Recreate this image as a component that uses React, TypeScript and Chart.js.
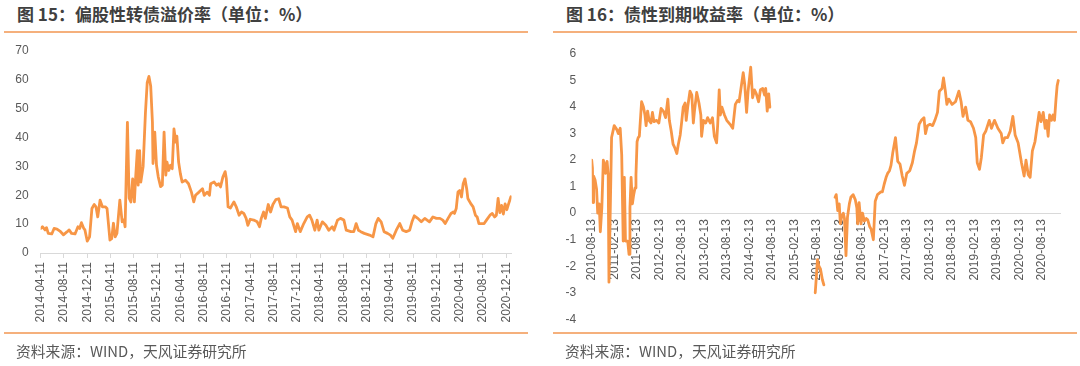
import React, { useEffect, useRef } from 'react';
import { Chart, registerables } from 'chart.js';

Chart.register(...registerables);

// ---------- 图15 偏股性转债溢价率 (months since 2014-04-11, %) ----------
const premiumMonths = [
  0.0, 0.3, 0.75, 1.0, 1.3, 1.9, 2.3, 2.8, 3.3, 3.9, 4.5, 4.9, 5.3, 5.9, 6.4, 6.7, 7.0, 7.4, 7.6, 8.0,
  8.4, 8.8, 9.2, 9.5, 9.8, 10.2, 10.6, 11.1, 11.4, 11.9, 12.2, 12.5, 12.8, 13.1, 13.6, 14.0, 14.3, 14.5, 14.9, 15.2,
  15.5, 15.8, 16.1, 16.3, 16.6, 16.75, 17.0, 17.2, 17.6, 18.0, 18.3, 18.6, 18.9, 19.2, 19.3, 19.6, 19.9, 20.2, 20.6, 20.9,
  21.2, 21.5, 21.7, 22.0, 22.3, 22.6, 22.9, 23.2, 23.4, 23.7, 24.0, 24.3, 24.9, 25.4, 25.9, 26.3, 26.6, 27.2, 27.8, 28.1,
  28.6, 29.0, 29.2, 29.8, 30.2, 30.6, 30.9, 31.3, 31.7, 31.9, 32.2, 32.6, 33.2, 33.6, 34.1, 34.5, 34.9, 35.3, 35.6, 36.0,
  36.6, 37.2, 37.6, 37.9, 38.3, 38.6, 39.1, 39.5, 39.9, 40.4, 40.9, 41.3, 41.8, 42.4, 42.8, 43.2, 43.8, 44.1, 44.6, 45.2,
  45.8, 46.2, 46.6, 47.1, 47.5, 47.8, 48.4, 49.0, 49.5, 50.1, 50.4, 51.0, 51.5, 52.1, 52.5, 53.3, 53.8, 54.2, 54.6, 55.0,
  55.6, 56.5, 57.1, 57.6, 58.0, 58.5, 59.0, 59.6, 60.1, 60.5, 61.1, 61.7, 62.2, 62.8, 63.4, 63.8, 64.2, 64.8, 65.4, 66.0,
  66.4, 66.8, 67.4, 68.0, 68.6, 69.1, 69.5, 70.0, 70.5, 70.9, 71.1, 71.4, 71.7, 72.0, 72.3, 72.6, 72.9, 73.2, 73.4, 73.9,
  74.3, 74.7, 75.0, 75.3, 75.7, 76.2, 76.6, 77.2, 77.6, 78.0, 78.3, 78.6, 78.9, 79.2, 79.5, 79.8, 80.1, 80.4, 80.8,
];
const premiumValues = [
  8.5, 9.1, 8.0, 8.8, 6.8, 6.6, 8.5, 8.3, 7.6, 6.3, 7.3, 8.0, 6.8, 6.6, 9.1, 8.5, 10.5, 8.5, 8.0, 4.1,
  5.6, 15.4, 16.8, 16.0, 12.5, 18.3, 16.0, 16.0, 15.4, 4.5, 5.0, 10.3, 5.6, 6.8, 18.3, 10.8, 11.5, 9.1, 45.3, 19.0,
  17.7, 25.7, 17.7, 25.7, 35.5, 23.5, 35.5, 24.6, 30.0, 48.7, 59.0, 61.2, 57.9, 45.3, 31.0, 41.9, 30.4, 26.4, 23.0, 23.5,
  41.9, 27.0, 31.5, 28.6, 30.4, 29.2, 43.0, 38.4, 40.5, 31.5, 27.5, 24.6, 25.2, 24.0, 21.1, 17.7, 20.0, 21.1, 22.3, 20.0,
  21.1, 20.0, 24.0, 24.6, 23.5, 24.0, 22.9, 26.3, 28.2, 25.7, 16.0, 15.6, 17.7, 16.0, 13.1, 14.2, 13.7, 12.0, 9.6, 11.7,
  11.4, 10.8, 9.1, 12.0, 14.2, 12.0, 16.8, 14.2, 16.8, 18.5, 18.8, 16.0, 16.0, 15.6, 12.5, 11.4, 7.4, 10.2, 7.4, 10.2,
  12.5, 13.1, 11.4, 7.9, 11.4, 7.9, 10.8, 9.6, 7.9, 9.1, 7.9, 11.4, 12.0, 11.4, 7.9, 7.4, 7.4, 10.2, 7.9, 7.4,
  6.8, 6.2, 5.6, 10.2, 12.0, 10.8, 7.4, 6.8, 6.2, 5.1, 7.9, 10.2, 7.9, 7.4, 7.9, 10.8, 12.9, 12.0, 10.8, 12.0,
  11.4, 10.8, 12.5, 12.0, 12.0, 11.4, 10.2, 12.0, 13.7, 14.2, 13.7, 15.4, 21.1, 21.7, 19.4, 24.0, 25.7, 22.3, 18.9, 17.1,
  16.0, 13.1, 12.5, 10.2, 10.2, 10.2, 11.4, 13.1, 13.7, 12.5, 13.1, 18.9, 14.0, 16.5, 13.5, 17.0, 15.0, 17.0, 19.5,
];
const premiumTickLabels = [
  '2014-04-11', '2014-08-11', '2014-12-11', '2015-04-11', '2015-08-11', '2015-12-11', '2016-04-11',
  '2016-08-11', '2016-12-11', '2017-04-11', '2017-08-11', '2017-12-11', '2018-04-11', '2018-08-11',
  '2018-12-11', '2019-04-11', '2019-08-11', '2019-12-11', '2020-04-11', '2020-08-11', '2020-12-11',
];

// ---------- 图16 债性到期收益率 (months since 2010-08-13, %), null = gap ----------
const ytmMonths = [
  0.0, 0.2, 0.35, 0.5, 0.9, 1.3, 1.6, 2.0, 2.3, 2.7, 3.1, 3.4, 3.7, 4.1, 4.4, 4.6, 5.3, 6.0, 6.7, 7.1,
  7.6, 8.0, 8.4, 8.7, 9.0, 9.6, 9.95, 10.2, 10.5, 10.85, 11.2, 11.55, 11.8, 12.1, 12.4, 12.7, 13.3, 13.8, 14.2, 14.5,
  14.9, 15.3, 15.8, 16.2, 16.6, 17.3, 17.9, 18.5, 19.1, 19.7, 20.3, 20.7, 21.2, 21.7, 22.2, 22.7, 23.1, 23.6, 24.0, 24.4,
  24.9, 25.2, 25.6, 26.2, 26.7, 27.1, 27.4, 28.0, 28.6, 29.1, 29.3, 29.8, 30.4, 30.9, 31.6, 32.2, 32.7, 33.3, 33.6, 34.0,
  34.3, 34.7, 35.4, 36.0, 36.9, 37.6, 38.3, 38.9, 39.3, 39.8, 40.4, 40.8, 41.3, 41.7, 42.4, 42.9, 43.4, 43.9, 44.5, 45.0,
  45.6, 46.1, 46.4, 46.8, 47.2, 47.5,
  53.0,
  59.6, 59.9, 60.2, 60.6, 61.0, 61.5, 61.9,
  63.5,
  64.9, 65.2, 65.6, 66.0, 66.3, 66.7, 67.1, 67.4, 67.8, 68.2, 68.7, 69.1, 69.7, 70.3, 70.7, 70.9, 71.3, 71.8, 72.2, 72.7,
  73.2, 73.6, 74.1, 74.5, 75.1, 75.6, 76.2, 77.1, 77.5, 78.0, 78.5, 78.9, 79.4, 79.8, 80.3, 81.0, 81.6, 82.2, 82.8, 83.4,
  84.0, 84.8, 85.5, 86.1, 86.6, 87.3, 87.9, 88.6, 89.0, 89.5, 90.2, 90.9, 91.5, 92.2, 92.7, 93.4, 93.8, 94.3, 94.7, 95.2,
  96.1, 97.0, 97.9, 98.5, 99.0, 99.7, 100.3, 101.0, 101.8, 102.4, 102.8, 103.4, 103.9, 104.5, 105.1, 106.0, 106.6, 107.4, 108.3, 109.2,
  109.6, 110.2, 110.9, 111.6, 112.3, 112.9, 113.7, 114.6, 115.3, 115.8, 116.4, 116.9, 117.5, 118.2, 118.9, 119.3, 119.8, 120.4, 120.9, 121.3,
  121.7, 122.1, 122.6, 123.0, 123.4, 123.8, 124.1, 124.4,
];
const ytmValues = [
  2.0, 1.7, 0.4, 1.4, 1.25, 0.9, 0.0, 0.35, -0.7, 0.2, 2.0, 1.85, 1.5, 1.95, 1.45, -2.6, 2.85, 3.3, 3.15, 3.0,
  3.2, 2.2, -1.05, 1.35, -1.05, -1.05, -1.55, 0.2, 1.35, 0.35, 0.7, 0.95, 1.45, 2.7, 2.85, 2.9, 4.2, 4.0, 3.7, 3.3,
  3.85, 3.5, 3.4, 3.8, 3.45, 3.5, 3.4, 3.95, 3.85, 3.6, 4.3, 3.5, 3.1, 2.6, 2.45, 2.25, 2.6, 2.95, 3.45, 4.0,
  4.15, 3.5, 4.0, 4.6, 4.45, 3.4, 3.85, 4.55, 4.15, 3.7, 2.9, 3.5, 3.4, 3.6, 3.4, 3.6, 2.9, 2.65, 3.35, 4.65,
  3.7, 4.0, 3.7, 3.5, 3.35, 3.2, 4.1, 4.25, 4.2, 4.7, 5.3, 4.85, 3.8, 4.6, 5.5, 4.35, 4.65, 4.5, 4.2, 4.65,
  4.7, 4.45, 4.7, 3.85, 4.5, 4.0,
  null,
  -3.0, -2.4, -1.75, -2.0, -2.1, -2.5, -2.7,
  null,
  0.6, 0.7, 0.1, 0.35, -0.4, -0.1, 0.0, -0.2, -1.6, -0.15, 0.35, 0.6, 0.7, 0.5, 0.2, -0.4, 0.4, -0.4, 0.0, -0.3,
  -0.2, -0.25, -0.5, -0.6, -1.0, 0.45, 0.7, 0.8, 0.8, 1.1, 1.35, 1.5, 1.6, 1.8, 2.3, 2.85, 1.95, 1.85, 1.4, 1.05,
  1.5, 1.6, 1.9, 2.35, 2.65, 3.35, 3.5, 3.6, 3.0, 3.3, 3.35, 3.3, 3.5, 3.8, 4.6, 4.7, 5.1, 4.6, 4.1, 4.3,
  4.1, 4.2, 4.6, 4.2, 3.65, 4.0, 3.5, 3.45, 3.2, 2.85, 1.9, 1.65, 2.1, 2.95, 3.1, 3.5, 3.2, 3.5, 3.2, 3.0,
  2.65, 2.85, 2.85, 3.1, 3.65, 2.95, 2.65, 1.9, 1.4, 2.0, 1.45, 1.35, 2.35, 2.7, 3.4, 3.8, 3.45, 3.8, 3.2, 3.5,
  2.9, 3.7, 3.5, 3.7, 3.5, 4.3, 4.8, 5.0,
];
const ytmTickLabels = [
  '2010-08-13', '2011-02-13', '2011-08-13', '2012-02-13', '2012-08-13', '2013-02-13', '2013-08-13',
  '2014-02-13', '2014-08-13', '2015-02-13', '2015-08-13', '2016-02-13', '2016-08-13', '2017-02-13',
  '2017-08-13', '2018-02-13', '2018-08-13', '2019-02-13', '2019-08-13', '2020-02-13', '2020-08-13',
];

const LINE_COLOR = '#f79646';
const AXIS_COLOR = '#d9d9d9';
const TICK_COLOR = '#595959';
const TICK_FONT = { family: '"Liberation Sans", Arial, sans-serif', size: 12 };

type ChartProps = {
  months: number[];
  values: (number | null)[];
  tickLabels: string[];
  tickStep: number;
  xMax: number;
  yMin: number;
  yMax: number;
  yStep: number;
  yAxisWidth: number;
  yPad: number;
  padTop: number;
  padRight: number;
  padBottom: number;
  xAtZero: boolean;
  left: number;
  canvasHeight: number;
};

function LineChart(p: ChartProps) {
  const ref = useRef<HTMLCanvasElement>(null);
  useEffect(() => {
    const data = p.months.map((m, i) => ({ x: m, y: p.values[i] }));
    const chart = new Chart(ref.current!, {
      type: 'line',
      data: {
        datasets: [
          {
            data: data as any,
            borderColor: LINE_COLOR,
            borderWidth: 2.8,
            pointRadius: 0,
            tension: 0,
            fill: false,
            spanGaps: false,
            borderJoinStyle: 'round',
            borderCapStyle: 'round',
          },
        ],
      },
      options: {
        responsive: false,
        animation: false,
        events: [],
        layout: { padding: { top: p.padTop, right: p.padRight, bottom: p.padBottom, left: 0 } },
        plugins: { legend: { display: false }, tooltip: { enabled: false } },
        scales: {
          x: {
            type: 'linear',
            min: 0,
            max: p.xMax,
            position: p.xAtZero ? ({ y: 0 } as any) : 'bottom',
            border: { display: true, color: AXIS_COLOR, width: 1 },
            grid: {
              display: !p.xAtZero,
              drawOnChartArea: false,
              drawTicks: !p.xAtZero,
              tickLength: 5,
              color: AXIS_COLOR,
            },
            afterBuildTicks: (scale: any) => {
              scale.ticks = p.tickLabels.map((_, i) => ({ value: i * p.tickStep }));
            },
            afterFit: (scale: any) => {
              if (!p.xAtZero) scale.height = 80;
            },
            ticks: {
              autoSkip: false,
              minRotation: 90,
              maxRotation: 90,
              padding: p.xAtZero ? 6 : 4,
              color: TICK_COLOR,
              font: TICK_FONT,
              callback: (v: any) => {
                const i = Math.round(Number(v) / p.tickStep);
                return p.tickLabels[i] ?? '';
              },
            },
          },
          y: {
            min: p.yMin,
            max: p.yMax,
            grid: { display: false, drawTicks: false },
            border: { display: false },
            afterFit: (scale: any) => {
              scale.width = p.yAxisWidth;
            },
            ticks: {
              stepSize: p.yStep,
              padding: p.yPad,
              color: TICK_COLOR,
              font: TICK_FONT,
            },
          },
        },
      },
    });
    return () => chart.destroy();
  }, []);
  return (
    <canvas
      ref={ref}
      width={540}
      height={p.canvasHeight}
      style={{ position: 'absolute', left: p.left, top: 0, width: 540, height: p.canvasHeight }}
    />
  );
}

const titleStyle: React.CSSProperties = {
  position: 'absolute',
  top: 3,
  fontFamily: '"Noto Sans CJK SC", "Noto Sans", sans-serif',
  fontWeight: 700,
  fontSize: 17,
  lineHeight: '22px',
  color: '#404040',
  whiteSpace: 'nowrap',
};
const sourceStyle: React.CSSProperties = {
  position: 'absolute',
  top: 341,
  fontFamily: '"Noto Sans CJK SC", "Noto Sans", sans-serif',
  fontSize: 14.8,
  lineHeight: '20px',
  color: '#595959',
  whiteSpace: 'nowrap',
};
const ruleStyle = (left: number, width: number, top: number): React.CSSProperties => ({
  position: 'absolute',
  left,
  width,
  top,
  height: 2,
  background: '#f5b07c',
});

export default function App() {
  return (
    <div style={{ position: 'absolute', left: 0, top: 0, width: 1080, height: 366, background: '#ffffff', overflow: 'hidden' }}>
      <div style={{ ...titleStyle, left: 17 }}>图 15：偏股性转债溢价率（单位：%）</div>
      <div style={ruleStyle(4, 524, 31)} />
      <LineChart
        months={premiumMonths}
        values={premiumValues}
        tickLabels={premiumTickLabels}
        tickStep={4}
        xMax={80.9}
        yMin={0}
        yMax={70}
        yStep={10}
        yAxisWidth={40.7}
        yPad={12}
        padTop={51}
        padRight={28.5}
        padBottom={0}
        xAtZero={false}
        left={0}
        canvasHeight={333}
      />
      <div style={ruleStyle(4, 524, 332)} />
      <div style={{ ...sourceStyle, left: 16 }}>资料来源：WIND，天风证券研究所</div>

      <div style={{ ...titleStyle, left: 566 }}>图 16：债性到期收益率（单位：%）</div>
      <div style={ruleStyle(553, 524, 31)} />
      <LineChart
        months={ytmMonths}
        values={ytmValues}
        tickLabels={ytmTickLabels}
        tickStep={6}
        xMax={125}
        yMin={-4}
        yMax={6}
        yStep={1}
        yAxisWidth={51.7}
        yPad={15.5}
        padTop={54}
        padRight={19.5}
        padBottom={6}
        xAtZero={true}
        left={540}
        canvasHeight={342}
      />
      <div style={ruleStyle(553, 524, 332)} />
      <div style={{ ...sourceStyle, left: 565 }}>资料来源：WIND，天风证券研究所</div>
    </div>
  );
}
